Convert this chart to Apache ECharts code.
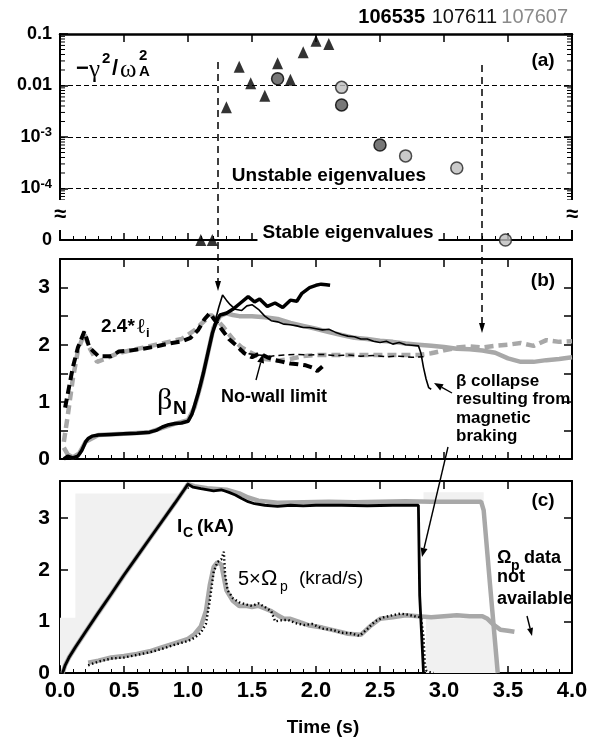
<!DOCTYPE html>
<html><head><meta charset="utf-8">
<script src="https://cdn.jsdelivr.net/npm/echarts@6/dist/echarts.min.js"></script>
<style>html,body{margin:0;padding:0;background:#fff}#c{width:597px;height:742px}</style>
</head><body><div id="c"></div>
<script>
const F = "'Liberation Sans', Arial, Helvetica, sans-serif";
const FS = "'Liberation Serif', 'DejaVu Serif', serif";

// ---------- panel (a): -gamma^2/omega_A^2 (0 = stable row) ----------
const triT   = [1.30, 1.40, 1.49, 1.60, 1.70, 1.80, 1.90, 2.00, 2.10, 1.10, 1.19];
const triV   = [0.0038, 0.023, 0.011, 0.0063, 0.027, 0.013, 0.044, 0.074, 0.064, 0, 0];
const darkT  = [1.70, 2.20, 2.50];
const darkV  = [0.0135, 0.0042, 0.0007];
const lightT = [2.20, 2.70, 3.10, 3.48];
const lightV = [0.0092, 0.00043, 0.00025, 0];
const aTickLabels = {'-1': '{n|0.1}', '-2': '{n|0.01}', '-3': '{n|10}{s|-3}', '-4': '{n|10}{s|-4}', '-5': '{n|0}'};
const ZERO_ROW = -5;
const shots = ['106535', '107611', '107607'];

// ---------- panel (b): beta_N and 2.4*li ----------
const bn1T = [0.03,0.06,0.10,0.14,0.17,0.20,0.22,0.25,0.30,0.40,0.50,0.60,0.70,0.75,0.80,0.85,0.90,0.95,1.00,1.03,1.08,1.12,1.16,1.19,1.22,1.25,1.30,1.35,1.41,1.47,1.52,1.56,1.62,1.68,1.74,1.80,1.85,1.89,1.95,2.00,2.04,2.08,2.11];
const bn1V = [0.00,0.05,0.02,0.05,0.15,0.30,0.36,0.40,0.42,0.43,0.44,0.45,0.47,0.50,0.56,0.60,0.62,0.63,0.66,0.78,1.15,1.50,1.90,2.20,2.40,2.52,2.55,2.62,2.73,2.84,2.75,2.80,2.67,2.73,2.65,2.78,2.76,2.90,3.00,3.04,3.06,3.05,3.04];
const bn2T = [1.00,1.05,1.10,1.15,1.20,1.24,1.27,1.30,1.33,1.37,1.42,1.46,1.50,1.55,1.60,1.65,1.70,1.75,1.80,1.85,1.90,1.95,2.00,2.05,2.10,2.15,2.20,2.25,2.30,2.35,2.40,2.45,2.50,2.55,2.60,2.65,2.70,2.75,2.80,2.82,2.84,2.86,2.88,2.90];
const bn2V = [0.66,0.90,1.30,1.80,2.30,2.65,2.87,2.78,2.70,2.62,2.60,2.68,2.70,2.62,2.50,2.42,2.40,2.36,2.35,2.33,2.30,2.30,2.28,2.26,2.27,2.22,2.18,2.15,2.14,2.10,2.10,2.06,2.04,2.06,2.01,2.04,2.00,1.99,1.98,1.85,1.60,1.40,1.25,1.22];
const bn3T = [0.03,0.06,0.10,0.15,0.20,0.30,0.50,0.70,0.90,1.00,1.05,1.10,1.15,1.20,1.25,1.30,1.35,1.40,1.50,1.60,1.70,1.80,1.90,2.00,2.10,2.20,2.30,2.40,2.50,2.60,2.70,2.80,2.90,3.00,3.10,3.20,3.30,3.40,3.50,3.60,3.70,3.80,3.90,4.00];
const bn3V = [0.20,0.08,0.03,0.10,0.30,0.42,0.44,0.47,0.62,0.68,0.90,1.30,1.80,2.30,2.50,2.55,2.52,2.50,2.50,2.48,2.45,2.38,2.33,2.28,2.22,2.17,2.12,2.10,2.07,2.05,2.02,2.00,1.98,1.96,1.93,1.92,1.90,1.86,1.76,1.70,1.70,1.73,1.75,1.78];
const li1T = [0.04,0.07,0.10,0.14,0.19,0.23,0.30,0.40,0.46,0.55,0.65,0.75,0.85,0.95,1.02,1.08,1.13,1.17,1.20,1.26,1.32,1.38,1.44,1.50,1.56,1.62,1.68,1.74,1.80,1.86,1.92,1.97,2.01,2.05];
const li1V = [0.90,1.25,1.60,1.95,2.23,1.95,1.80,1.80,1.88,1.90,1.93,1.97,2.02,2.06,2.12,2.26,2.45,2.55,2.46,2.28,2.10,1.98,1.85,1.78,1.85,1.78,1.73,1.70,1.67,1.66,1.64,1.60,1.54,1.62];
const li2T = [1.40,1.45,1.55,1.65,1.75,1.85,1.95,2.05,2.15,2.25,2.35,2.45,2.55,2.65,2.75,2.84];
const li2V = [1.90,1.85,1.82,1.80,1.82,1.83,1.82,1.83,1.81,1.82,1.80,1.81,1.79,1.80,1.78,1.79];
const li3T = [0.03,0.06,0.10,0.14,0.19,0.23,0.29,0.35,0.45,0.55,0.65,0.75,0.85,0.95,1.05,1.12,1.18,1.22,1.28,1.35,1.42,1.50,1.60,1.70,1.80,1.90,2.00,2.20,2.40,2.60,2.80,2.90,3.00,3.10,3.20,3.30,3.40,3.50,3.60,3.70,3.80,3.90,4.00];
const li3V = [0.30,0.75,1.40,1.90,2.20,1.95,1.70,1.75,1.85,1.90,1.95,2.00,2.05,2.10,2.25,2.40,2.52,2.45,2.30,2.10,1.95,1.85,1.75,1.72,1.75,1.80,1.82,1.82,1.82,1.82,1.82,1.85,1.90,1.95,1.97,1.95,1.98,2.00,2.03,1.98,2.08,2.05,2.06];

// ---------- panel (c): I_C and 5*Omega_p ----------
const ic2T = [0.02,0.04,0.07,0.12,0.20,0.30,0.40,0.50,0.60,0.70,0.80,0.90,0.97,1.00,1.04,1.10,1.20,1.26,1.32,1.37,1.42,1.47,1.52,1.60,1.70,1.80,1.90,2.00,2.20,2.40,2.60,2.80,2.81,2.84];
const ic2V = [0.00,0.15,0.30,0.50,0.80,1.17,1.53,1.90,2.25,2.60,2.95,3.30,3.55,3.66,3.60,3.57,3.53,3.55,3.50,3.45,3.38,3.32,3.28,3.25,3.23,3.25,3.24,3.25,3.25,3.24,3.25,3.25,1.50,0.00];
const ic3T = [0.02,0.04,0.07,0.12,0.20,0.30,0.40,0.50,0.60,0.70,0.80,0.90,0.97,1.00,1.05,1.15,1.30,1.40,1.47,1.55,1.70,1.90,2.10,2.30,2.50,2.70,2.90,3.10,3.29,3.31,3.36,3.42];
const ic3V = [0.00,0.15,0.30,0.50,0.80,1.17,1.53,1.90,2.25,2.60,2.95,3.30,3.55,3.66,3.62,3.58,3.55,3.48,3.40,3.34,3.30,3.31,3.32,3.31,3.32,3.33,3.32,3.32,3.32,3.15,1.70,0.00];
const om2T = [0.22,0.30,0.40,0.50,0.60,0.70,0.80,0.90,1.00,1.05,1.10,1.14,1.17,1.20,1.23,1.26,1.28,1.29,1.31,1.35,1.40,1.45,1.50,1.55,1.60,1.65,1.68,1.72,1.78,1.85,1.91,1.97,2.05,2.14,2.20,2.27,2.34,2.40,2.46,2.53,2.60,2.66,2.72,2.77,2.82,2.84,2.85,2.86,2.88,2.92];
const om2V = [0.15,0.22,0.28,0.30,0.35,0.40,0.47,0.55,0.62,0.68,0.78,0.95,1.40,1.95,2.15,2.20,2.35,1.90,1.60,1.45,1.37,1.33,1.30,1.35,1.28,1.20,1.00,1.02,1.03,0.96,0.93,0.95,0.86,0.83,0.78,0.77,0.72,0.85,1.00,1.08,1.12,1.15,1.13,1.10,1.08,0.70,0.20,0.05,0.02,0.00];
const om3T = [0.22,0.30,0.40,0.50,0.60,0.70,0.80,0.90,1.00,1.05,1.10,1.14,1.17,1.20,1.23,1.26,1.30,1.35,1.40,1.45,1.50,1.55,1.60,1.65,1.70,1.75,1.80,1.88,1.95,2.05,2.15,2.25,2.35,2.42,2.50,2.60,2.70,2.80,2.90,3.00,3.10,3.20,3.30,3.34,3.38,3.44,3.50,3.55];
const om3V = [0.20,0.24,0.30,0.33,0.37,0.42,0.50,0.58,0.66,0.75,0.90,1.20,1.70,2.05,2.15,2.10,1.60,1.40,1.30,1.30,1.28,1.30,1.25,1.20,1.12,1.05,1.05,0.98,0.92,0.88,0.82,0.76,0.74,0.90,1.05,1.08,1.12,1.10,1.08,1.10,1.12,1.10,1.10,1.05,0.95,0.84,0.82,0.80];
// light-gray background patches in panel (c), in data units (t, value)
const shadePolys = [
  [[0.00,0.15],[0.00,1.07],[0.12,1.07],[0.12,3.48],[0.96,3.48],[0.05,0.15]],
  [[2.84,3.30],[2.84,3.50],[3.31,3.50],[3.31,3.32]],
  [[2.86,0.00],[2.86,1.06],[3.37,1.06],[3.42,0.00]]
];

const pairs = (t, v) => t.map((x, i) => [x, v[i]]);
const logRow = (t, v) => t.map((x, i) => [x, v[i] > 0 ? Math.log10(v[i]) : ZERO_ROW]);

// log minor tick positions for panel (a)
const minorLog = [];
for (let k = -5; k <= -2; k++) for (let m = 2; m <= 9; m++) {
  const l = Math.log10(m * Math.pow(10, k));
  if (l > -4.3 && l < -1) minorLog.push([0, l]);
}

const axLine = w => ({show: true, onZero: false, lineStyle: {color: '#000', width: w || 2}});
const tick = (len, w) => ({show: true, inside: true, length: len, lineStyle: {color: '#000', width: w || 1.5}});
const noLab = {show: false};
const noSplit = {show: false};
const xBase = {type: 'value', min: 0, max: 4, interval: 0.5};
function xBottom(g, labels) {
  return Object.assign({}, xBase, {gridIndex: g, position: 'bottom', axisLine: axLine(2), axisTick: tick(7),
    minorTick: {show: true, splitNumber: 5, length: 4, lineStyle: {color: '#000', width: 1}},
    splitLine: noSplit,
    axisLabel: labels ? {show: true, formatter: v => v.toFixed(1), color: '#000', fontFamily: F, fontWeight: 'bold', fontSize: 22, margin: 7} : noLab,
    name: labels ? 'Time (s)' : '', nameLocation: 'middle', nameGap: 45,
    nameTextStyle: {color: '#000', fontFamily: F, fontWeight: 'bold', fontSize: 19, padding: [0, 0, 0, 14]}});
}
function xTop(g, w) {
  return Object.assign({}, xBase, {gridIndex: g, position: 'top', axisLine: axLine(w), axisTick: tick(8), axisLabel: noLab, splitLine: noSplit});
}

const option = {
  animation: false,
  backgroundColor: '#fff',
  grid: [
    {left: 60, right: 25, top: 34, height: 206, outerBoundsMode: 'none', containLabel: false},
    {left: 60, right: 25, top: 259, height: 200, outerBoundsMode: 'none', containLabel: false},
    {left: 60, right: 25, top: 481, height: 192, outerBoundsMode: 'none', containLabel: false}
  ],
  xAxis: [xBottom(0, false), xTop(0, 2.5), xBottom(1, false), xTop(1, 2), xBottom(2, true), xTop(2, 2)],
  yAxis: [
    {gridIndex: 0, type: 'value', min: -5, max: -1, interval: 1, position: 'left', axisLine: axLine(2), axisTick: tick(8),
      axisLabel: {margin: 8, formatter: v => aTickLabels[String(Math.round(v))] || '',
        rich: {n: {fontSize: 18, fontWeight: 'bold', fontFamily: F, color: '#000', lineHeight: 22},
               s: {fontSize: 13, fontWeight: 'bold', fontFamily: F, color: '#000', lineHeight: 10, verticalAlign: 'top'}}},
      splitLine: {show: true, lineStyle: {color: '#000', width: 1, type: [5, 3]}}},
    {gridIndex: 0, type: 'value', min: -5, max: -1, interval: 1, position: 'right', axisLine: axLine(2), axisTick: tick(8), axisLabel: noLab, splitLine: noSplit},
    {gridIndex: 1, type: 'value', min: 0, max: 3.5, interval: 0.5, position: 'left', axisLine: axLine(2), axisTick: tick(8),
      axisLabel: {margin: 10, formatter: v => Number.isInteger(v) ? String(v) : '', color: '#000', fontFamily: F, fontWeight: 'bold', fontSize: 21}, splitLine: noSplit},
    {gridIndex: 1, type: 'value', min: 0, max: 3.5, interval: 0.5, position: 'right', axisLine: axLine(2), axisTick: tick(8), axisLabel: noLab, splitLine: noSplit},
    {gridIndex: 2, type: 'value', min: 0, max: 3.72, interval: 1, position: 'left', axisLine: axLine(2), axisTick: tick(8),
      axisLabel: {margin: 10, formatter: v => Number.isInteger(v) ? String(v) : '', color: '#000', fontFamily: F, fontWeight: 'bold', fontSize: 21, showMaxLabel: false}, splitLine: noSplit},
    {gridIndex: 2, type: 'value', min: 0, max: 3.72, interval: 1, position: 'right', axisLine: axLine(2), axisTick: tick(8), axisLabel: noLab, splitLine: noSplit}
  ],
  series: [
    // panel (a)
    {type: 'custom', xAxisIndex: 0, yAxisIndex: 0, silent: true, clip: false, z: 5, data: minorLog,
      renderItem: (p, api) => {
        const a = api.coord([0, api.value(1)]), b = api.coord([4, api.value(1)]);
        return {type: 'group', children: [
          {type: 'line', shape: {x1: a[0], y1: a[1], x2: a[0] + 5, y2: a[1]}, style: {stroke: '#000', lineWidth: 1}},
          {type: 'line', shape: {x1: b[0] - 5, y1: b[1], x2: b[0], y2: b[1]}, style: {stroke: '#000', lineWidth: 1}}]};
      }},
    {type: 'scatter', name: shots[0], xAxisIndex: 0, yAxisIndex: 0, clip: false, z: 10, symbol: 'triangle', symbolSize: [11, 12],
      itemStyle: {color: '#000'}, data: logRow(triT, triV)},
    {type: 'scatter', name: shots[1], xAxisIndex: 0, yAxisIndex: 0, clip: false, z: 10, symbol: 'circle', symbolSize: 12,
      itemStyle: {color: '#555', borderColor: '#000', borderWidth: 1.5}, data: logRow(darkT, darkV)},
    {type: 'scatter', name: shots[2], xAxisIndex: 0, yAxisIndex: 0, clip: false, z: 10, symbol: 'circle', symbolSize: 12,
      itemStyle: {color: '#bdbdbd', borderColor: '#222', borderWidth: 1.5}, data: logRow(lightT, lightV)},
    // panel (b)
    {type: 'line', xAxisIndex: 2, yAxisIndex: 2, symbol: 'none', z: 3, lineStyle: {color: '#a8a8a8', width: 4.5, type: [9, 5]}, data: pairs(li3T, li3V)},
    {type: 'line', xAxisIndex: 2, yAxisIndex: 2, symbol: 'none', z: 3, lineStyle: {color: '#a8a8a8', width: 4.5}, data: pairs(bn3T, bn3V)},
    {type: 'line', xAxisIndex: 2, yAxisIndex: 2, symbol: 'none', z: 4, lineStyle: {color: '#000', width: 1.5, type: [6, 4]}, data: pairs(li2T, li2V)},
    {type: 'line', xAxisIndex: 2, yAxisIndex: 2, symbol: 'none', z: 4, lineStyle: {color: '#000', width: 4, type: [9, 5]}, data: pairs(li1T, li1V)},
    {type: 'line', xAxisIndex: 2, yAxisIndex: 2, symbol: 'none', z: 5, lineStyle: {color: '#000', width: 1.6}, data: pairs(bn2T, bn2V)},
    {type: 'line', xAxisIndex: 2, yAxisIndex: 2, symbol: 'none', z: 6, lineStyle: {color: '#000', width: 3.5}, data: pairs(bn1T, bn1V)},
    // panel (c)
    {type: 'custom', xAxisIndex: 4, yAxisIndex: 4, silent: true, z: 1, data: shadePolys.map(p => p[0]),
      renderItem: (p, api) => ({type: 'polygon', shape: {points: shadePolys[p.dataIndex].map(pt => api.coord(pt))}, style: {fill: '#f1f1f1'}})},
    {type: 'line', xAxisIndex: 4, yAxisIndex: 4, symbol: 'none', z: 3, lineStyle: {color: '#a8a8a8', width: 4.5}, data: pairs(om3T, om3V)},
    {type: 'line', xAxisIndex: 4, yAxisIndex: 4, symbol: 'none', z: 3, lineStyle: {color: '#a8a8a8', width: 4.5}, data: pairs(ic3T, ic3V)},
    {type: 'line', xAxisIndex: 4, yAxisIndex: 4, symbol: 'none', z: 5, lineStyle: {color: '#000', width: 2.4, type: [1.5, 2.5]}, data: pairs(om2T, om2V)},
    {type: 'line', xAxisIndex: 4, yAxisIndex: 4, symbol: 'none', z: 6, lineStyle: {color: '#000', width: 2.8}, data: pairs(ic2T, ic2V)}
  ],
  graphic: []
};

// ---------- annotations ----------
const G = option.graphic;
function txt(text, x, y, size, opts) {
  opts = opts || {};
  G.push({type: 'text', x: x, y: y, z: 100, zlevel: 0, style: Object.assign({
    text: text, fill: opts.fill || '#000',
    font: (opts.weight || 'bold') + ' ' + size + 'px ' + (opts.family || F),
    textAlign: opts.align || 'left', textVerticalAlign: 'middle', align: opts.align || 'left', verticalAlign: 'middle'
  }, opts.extra || {})});
}
function arrow(x1, y1, x2, y2, o) {
  o = o || {};
  const head = o.head || 9, hw = o.hw || 3.5;
  const a = Math.atan2(y2 - y1, x2 - x1);
  const bx = x2 - head * Math.cos(a), by = y2 - head * Math.sin(a);
  const px = -Math.sin(a) * hw, py = Math.cos(a) * hw;
  G.push({type: 'line', z: 100, shape: {x1: x1, y1: y1, x2: bx, y2: by}, style: {stroke: '#000', lineWidth: o.w || 1.4, lineDash: o.dash || null}});
  G.push({type: 'polygon', z: 100, shape: {points: [[x2, y2], [bx + px, by + py], [bx - px, by - py]]}, style: {fill: '#000'}});
}

// legend of shots
txt(shots[0], 425, 17, 20, {align: 'right'});
txt(shots[1], 497, 17, 20, {align: 'right', weight: 'normal', fill: '#111'});
txt(shots[2], 568, 17, 20, {align: 'right', weight: 'normal', fill: '#8a8a8a'});

// panel (a) labels
txt('\u2212', 76, 69, 22);
txt('\u03b3', 89, 70, 25, {weight: 'normal', family: FS});
txt('2', 102, 59, 15);
txt('/', 112, 69, 22);
txt('\u03c9', 120, 70, 25, {weight: 'normal', family: FS});
txt('2', 139, 56, 15);
txt('A', 139, 72, 15);
txt('(a)', 543, 61, 19, {align: 'center'});
txt('Unstable eigenvalues', 329, 176, 19, {align: 'center'});
txt('Stable eigenvalues', 348, 233, 19, {align: 'center', extra: {backgroundColor: '#fff', padding: [2, 5, 9, 5]}});
// axis break marks
[60, 572].forEach(x => txt('\u2248', x, 215, 22, {align: 'center', extra: {backgroundColor: '#fff', padding: [4, 1, 4, 1]}}));

// panel (b) labels
txt('(b)', 543, 281, 19, {align: 'center'});
txt('2.4*', 101, 327, 19);
txt('\u2113', 136, 327, 21, {weight: 'normal', family: FS});
txt('i', 146, 333, 13);
txt('\u03b2', 157, 401, 30, {weight: 'normal', family: FS});
txt('N', 173, 409, 19);
txt('No-wall limit', 221, 397, 18);
arrow(256, 380, 263, 354);
['\u03b2 collapse', 'resulting from', 'magnetic', 'braking'].forEach((s, i) => txt(s, 456, 381 + i * 18.5, 17));
arrow(452, 393, 434, 383);
arrow(448, 447, 422, 557);

// panel (c) labels
txt('(c)', 543, 501, 19, {align: 'center'});
txt('I', 177, 527, 19);
txt('C', 183, 533, 14);
txt('(kA)', 197, 527, 19);
txt('5\u00d7', 238, 579, 20, {weight: 'normal'});
txt('\u03a9', 261, 579, 22, {weight: 'normal'});
txt('p', 280, 587, 14, {weight: 'normal'});
txt('(krad/s)', 299, 579, 19, {weight: 'normal'});
txt('\u03a9', 497, 558, 18);
txt('p', 511, 566, 14);
txt('data', 524, 558, 18);
txt('not', 497, 577, 18);
txt('available', 497, 599, 18);
arrow(527, 616, 532, 636, {head: 8, hw: 3});

// long dashed arrows between panels
arrow(218, 62, 218, 291, {dash: [7, 5], w: 1.5, head: 10, hw: 3});
arrow(482, 65, 482, 333, {dash: [7, 5], w: 1.5, head: 10, hw: 3});

const chart = echarts.init(document.getElementById('c'), null, {renderer: 'canvas', width: 597, height: 742});
chart.setOption(option);
</script></body></html>
